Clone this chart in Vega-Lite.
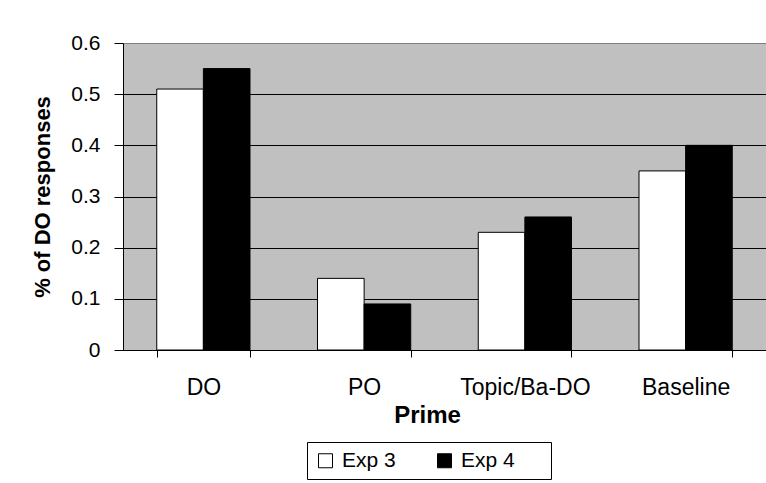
{
  "$schema": "https://vega.github.io/schema/vega-lite/v6.json",
  "width": 643,
  "height": 307,
  "autosize": {"type": "none"},
  "padding": {"left": 123, "top": 43, "right": 0, "bottom": 133},
  "background": "white",
  "config": {
    "font": "Liberation Sans",
    "view": {"fill": "#C0C0C0", "stroke": "#808080", "strokeWidth": 1},
    "axis": {"labelColor": "black", "titleColor": "black", "domainColor": "black", "tickColor": "black"}
  },
  "data": {
    "values": [
      {"prime": "DO", "exp": "Exp 3", "value": 0.51},
      {"prime": "DO", "exp": "Exp 4", "value": 0.55},
      {"prime": "PO", "exp": "Exp 3", "value": 0.14},
      {"prime": "PO", "exp": "Exp 4", "value": 0.09},
      {"prime": "Topic/Ba-DO", "exp": "Exp 3", "value": 0.23},
      {"prime": "Topic/Ba-DO", "exp": "Exp 4", "value": 0.26},
      {"prime": "Baseline", "exp": "Exp 3", "value": 0.35},
      {"prime": "Baseline", "exp": "Exp 4", "value": 0.40}
    ]
  },
  "mark": {"type": "bar", "stroke": "black", "strokeWidth": 1},
  "encoding": {
    "x": {
      "field": "prime",
      "type": "nominal",
      "sort": null,
      "scale": {"paddingInner": 0.42, "paddingOuter": 0.21},
      "axis": {
        "title": "Prime",
        "titleFontSize": 24,
        "titleFontWeight": "bold",
        "titlePadding": 4,
        "titleX": 304,
        "labelFontSize": 23,
        "labelAngle": 0,
        "labelPadding": 19,
        "tickBand": "extent",
        "tickSize": 7,
        "grid": false,
        "domainColor": "black"
      }
    },
    "xOffset": {"field": "exp", "type": "nominal", "scale": {"paddingInner": 0, "paddingOuter": 0}},
    "y": {
      "field": "value",
      "type": "quantitative",
      "scale": {"domain": [0, 0.6], "nice": false},
      "axis": {
        "title": "% of DO responses",
        "titleFontSize": 22,
        "titleFontWeight": "bold",
        "titlePadding": 16,
        "values": [0, 0.1, 0.2, 0.3, 0.4, 0.5, 0.6],
        "format": "~g",
        "labelFontSize": 21,
        "labelPadding": 14,
        "tickSize": 9,
        "grid": true,
        "gridColor": {"condition": {"test": "datum.value >= 0.6", "value": "#808080"}, "value": "black"},
        "gridWidth": 1
      }
    },
    "fill": {
      "field": "exp",
      "type": "nominal",
      "scale": {"domain": ["Exp 3", "Exp 4"], "range": ["white", "black"]},
      "legend": {
        "title": "\u00a0",
        "titleOrient": "right",
        "titlePadding": 28,
        "titleFontSize": 21,
        "orient": "none",
        "legendX": 184,
        "legendY": 399,
        "direction": "horizontal",
        "strokeColor": "black",
        "padding": 8,
        "symbolType": "square",
        "symbolSize": 196,
        "symbolStrokeColor": "black",
        "symbolStrokeWidth": 1,
        "labelFontSize": 21,
        "labelColor": "black",
        "labelOffset": 6,
        "columnPadding": 38
      }
    }
  }
}
